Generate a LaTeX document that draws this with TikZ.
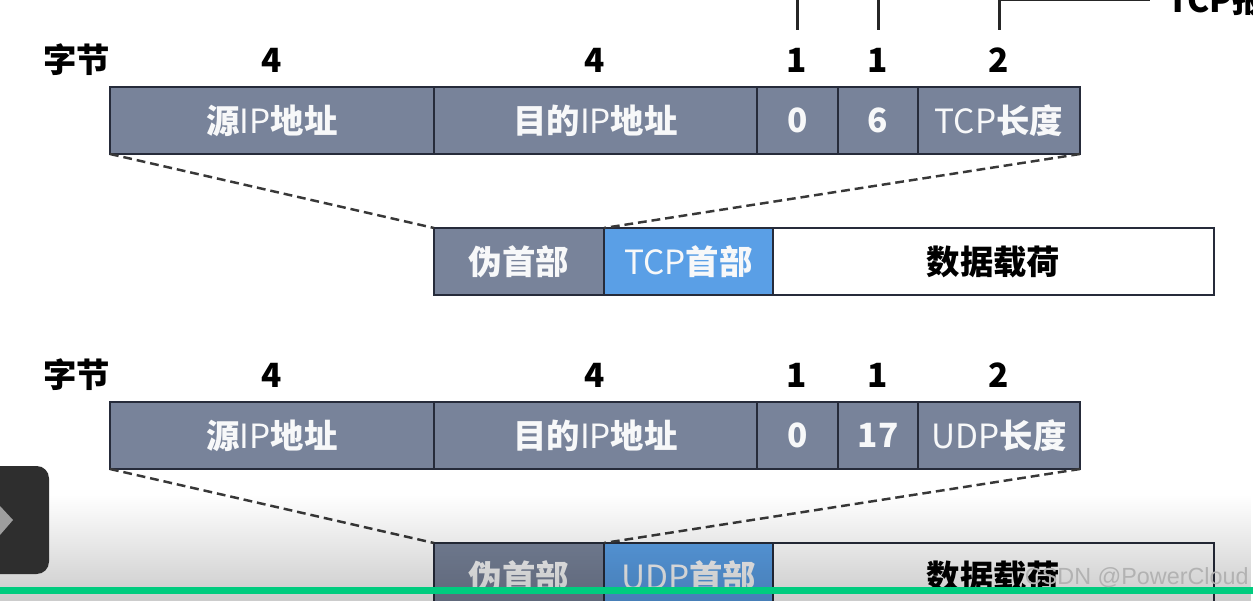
\documentclass[tikz,border=0pt]{standalone}
\usepackage{fontspec}
\setmainfont{Noto Sans CJK SC}
\newfontfamily\wmfont{Liberation Sans}
\usetikzlibrary{fadings}
\definecolor{c1}{HTML}{78839A}
\definecolor{c2}{HTML}{5A9FE6}
\definecolor{edgecolor}{HTML}{262B3A}
\definecolor{barcolor}{HTML}{00CC7F}
\definecolor{btncolor}{HTML}{2E2E2E}
\def\u{0.02cm}
\def\lat#1{{\mdseries #1}}

\begin{document}
\begin{tikzpicture}[
    x=\u, y=-\u,
    every node/.style={font=\fontsize{19}{21}\selectfont\bfseries},
    cell/.style={draw=edgecolor, line width=1.4pt, anchor=north west, inner sep=0pt, outer sep=0pt,
        minimum height=67*\u, text=white!94!c1},
    hdr/.style={cell, fill=c1},
    tcp/.style={cell, fill=c2},
    load/.style={cell, fill=white, text=black},
    num/.style={text=black},
    dashline/.style={draw=black!78, line width=1.4pt, dash pattern=on 5pt off 2.8pt},
    leader/.style={draw=black!85, line width=1.7pt},
]
\clip (0,0) rectangle (1253,601);
\useasboundingbox (0,0) rectangle (1253,601);
\fill[white] (0,0) rectangle (1253,601);

% ---------------------------------------------------------- top leaders
\coordinate (t1) at (797,-2);
\coordinate (t2) at (878,-2);
\coordinate (t3) at (999,30);
\coordinate (t4) at (1150,0);
\node[num, anchor=west, inner sep=0pt] (tcpnote) at (1167,0) {TCP报};
\draw[leader] (t1) -- ++(0,32);
\draw[leader] (t2) -- ++(0,32);
\draw[leader] (t3) |- (t4);

% ---------------------------------------------------------- the two headers
\foreach \r/\ytop/\ylab/\proto/\code in {a/87/60/TCP/6, b/402/375/UDP/17} {
  \node[num] (bytes\r) at (77,\ylab) {字节};
  \foreach \p/\xc in {4/272, 4/595, 1/797, 1/878, 2/999} {
    \node[num] at (\xc,\ylab) {\p};
  }
  \node[hdr, minimum width=324*\u] (src\r) at (110,\ytop) {源\lat{IP}地址};
  \node[hdr, minimum width=323*\u] (dst\r) at (434,\ytop) {目的\lat{IP}地址};
  \node[hdr, minimum width=81*\u]  (zero\r) at (757,\ytop) {0};
  \node[hdr, minimum width=80*\u]  (prot\r) at (838,\ytop) {\code};
  \node[hdr, minimum width=162*\u] (len\r) at (918,\ytop) {\lat{\proto}长度};
}

% ---------------------------------------------------------- the two segments
\foreach \r/\ytop/\proto in {a/228/TCP, b/543/UDP} {
  \node[hdr, minimum width=170*\u]  (pseudo\r) at (434,\ytop) {伪首部};
  \node[tcp, minimum width=169*\u]  (head\r) at (604,\ytop) {\lat{\proto}首部};
  \node[load, minimum width=441*\u] (data\r) at (773,\ytop) {数据载荷};
  \draw[dashline] (src\r.south west) -- (pseudo\r.north west);
  \draw[dashline] (len\r.south east) -- (head\r.north west);
}

% ---------------------------------------------------------- player overlay
\fill[black, opacity=0.24, path fading=north] (0,495) rectangle (1253,620);
\fill[btncolor, rounded corners=7pt] (-30,466) rectangle (49,574);
\fill[black!38] (0,506) -- (13,520) -- (0,535) -- cycle;
\fill[barcolor] (0,587) rectangle (1253,594);
\node[font=\fontsize{13.3}{15}\selectfont\wmfont, text=black!30, anchor=east, inner sep=0pt] (mark) at (1249,578) {CSDN @PowerCloud};
\end{tikzpicture}
\end{document}
